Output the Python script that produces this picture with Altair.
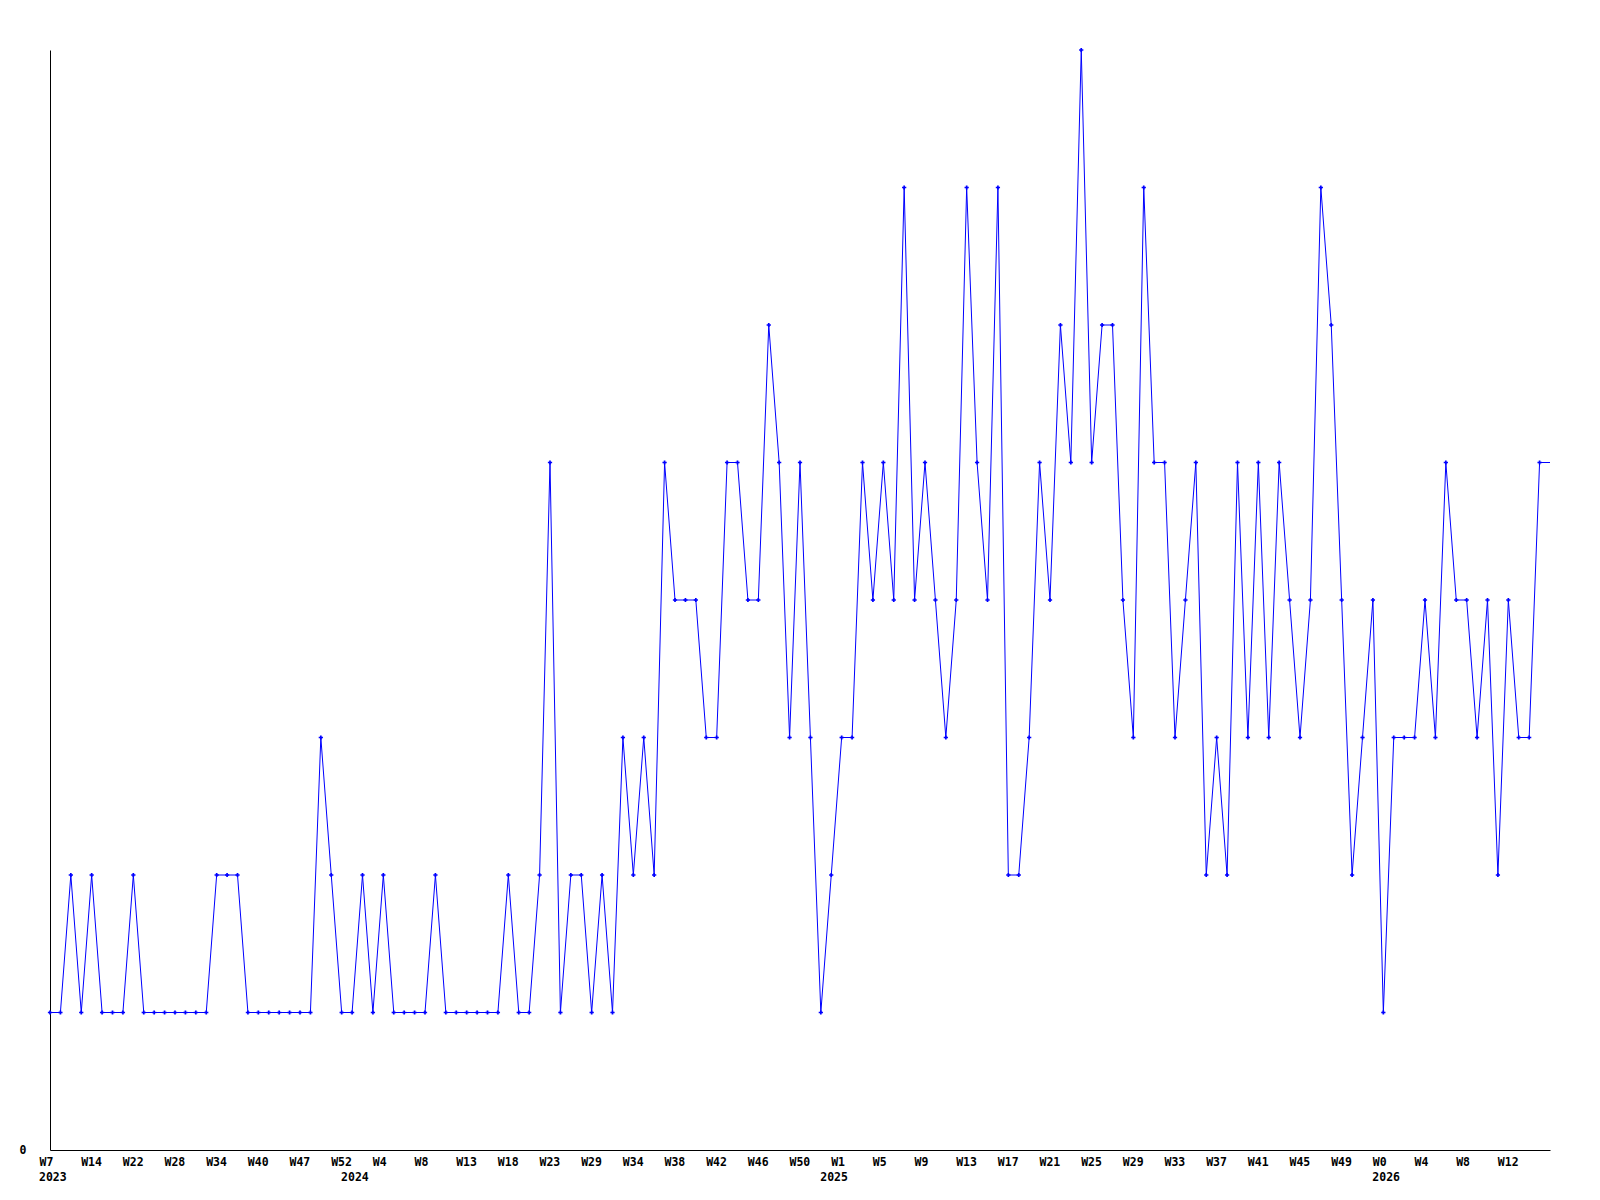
import altair as alt
import pandas as pd

values = [1,1,2,1,2,1,1,1,2,1, 1,1,1,1,1,1,2,2,2,1, 1,1,1,1,1,1,3,2,1,1,
          2,1,2,1,1,1,1,2,1,1, 1,1,1,1,2,1,1,2,5,1, 2,2,1,2,1,3,2,3,2,5,
          4,4,4,3,3,5,5,4,4,6, 5,3,5,3,1,2,3,3,5,4, 5,4,7,4,5,4,3,4,7,5,
          4,7,2,2,3,5,4,6,5,8, 5,6,6,4,3,7,5,5,3,4, 5,2,3,2,5,3,5,3,5,4,
          3,4,7,6,4,2,3,4,1,3, 3,3,4,3,5,4,4,3,4,2, 4,3,3,5,5]

week_labels = ["W7", "W14", "W22", "W28", "W34", "W40", "W47", "W52", "W4", "W8",
               "W13", "W18", "W23", "W29", "W34", "W38", "W42", "W46", "W50", "W1",
               "W5", "W9", "W13", "W17", "W21", "W25", "W29", "W33", "W37", "W41",
               "W45", "W49", "W0", "W4", "W8", "W12"]
week_step = 4
year_labels = ["2023", "2024", "2025", "2026"]
year_index = [0, 29, 75, 128]

FONT = "DejaVu Sans Mono"
BLUE = "#0000ff"

df = pd.DataFrame({"idx": list(range(len(values))), "value": values})
df_years = pd.DataFrame({"idx": year_index, "year": year_labels})

n_last = len(values) - 1
tick_vals = [i * week_step for i in range(len(week_labels))]
label_arr = "[" + ",".join("'" + w + "'" for w in week_labels) + "]"

x_scale = alt.Scale(domain=[0, n_last], nice=False, zero=False)
y_scale = alt.Scale(domain=[0, 8], nice=False, zero=True)

x_axis = alt.Axis(values=tick_vals, labelExpr=f"{label_arr}[round(datum.value/{week_step})]",
                  title=None, grid=False, ticks=False, tickSize=0, labelAlign="left",
                  labelOffset=-11, labelBaseline="middle", labelPadding=12, labelFont=FONT,
                  labelFontSize=11.5, labelFontWeight="bold", labelColor="black",
                  domainColor="black", domainWidth=1, labelOverlap=False, labelFlush=False)
y_axis = alt.Axis(values=[0], format="d", title=None, grid=False, ticks=False, tickSize=0,
                  labelPadding=24, labelFont=FONT, labelFontSize=11.5, labelFontWeight="bold",
                  labelColor="black", domainColor="black", domainWidth=1, labelBaseline="middle")

base = alt.Chart(df)

line = base.mark_line(color=BLUE, strokeWidth=1).encode(
    x=alt.X("idx:Q", scale=x_scale, axis=x_axis),
    y=alt.Y("value:Q", scale=y_scale, axis=y_axis),
)

points = base.transform_filter(f"datum.idx < {n_last}").mark_point(
    shape="cross", filled=True, size=18, color=BLUE, opacity=1
).encode(
    x=alt.X("idx:Q", scale=x_scale),
    y=alt.Y("value:Q", scale=y_scale),
)

years = alt.Chart(df_years).mark_text(
    align="left", baseline="middle", dx=-11, font=FONT, fontSize=11.5,
    fontWeight="bold", color="black"
).encode(
    x=alt.X("idx:Q", scale=x_scale),
    y=alt.value(1127.5),
    text="year:N",
)

chart = alt.layer(line, points, years).properties(
    width=1500, height=1100, autosize="none",
    padding={"left": 42, "top": 42, "right": 10, "bottom": 40},
    background="white",
).configure_view(strokeWidth=0)

chart.save("out.html", embed_options={"renderer": "svg", "actions": False})
